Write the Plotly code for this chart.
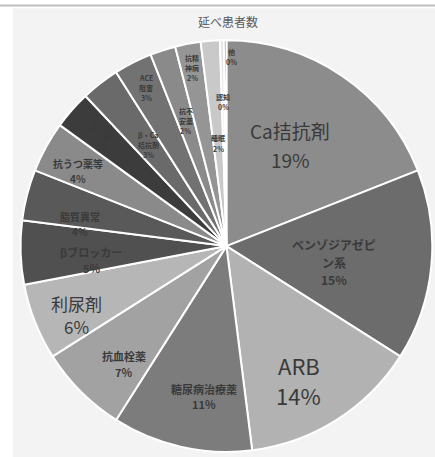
import math
import plotly.graph_objects as go

# 延べ患者数 by drug class
labels = ["Ca拮抗剤", "ベンゾジアゼピン系", "ARB", "糖尿病治療薬", "抗血栓薬", "利尿剤",
          "βブロッカー", "脂質異常", "抗うつ薬等", "抗コリン系", "β・Ca拮抗配合剤",
          "ACE阻害薬", "抗不安薬", "抗精神病薬", "睡眠薬", "抗認知症薬", "その他"]
values = [19, 15, 14, 11, 7, 6, 5, 4, 4, 3, 3, 3, 2, 2, 1.5, 0.3, 0.2]
# slice label text, one entry per line
display_names = [["Ca拮抗剤"], ["ベンゾジアゼピ", "ン系"], ["ARB"], ["糖尿病治療薬"],
                 ["抗血栓薬"], ["利尿剤"], ["βブロッカー"], ["脂質異常"],
                 ["抗うつ薬等"], ["抗コリ", "ン系"], ["β・Ca", "拮抗剤"],
                 ["ACE", "阻害"], ["抗不", "安薬"], ["抗精", "神病"], ["睡眠"],
                 ["認知"], ["他"]]
bold_text = [False, True, False, True, True, False, True, True, True,
             True, True, True, True, True, True, True, True]

slice_colors = ["#8c8c8c", "#6c6c6c", "#b2b2b2", "#7c7c7c", "#a2a2a2", "#b6b6b6",
                "#505050", "#595959", "#8a8a8a", "#3c3c3c", "#6a6a6a",
                "#727272", "#8a8a8a", "#959595", "#c9c9c9", "#e2e2e2", "#767676"]
text_sizes = [19, 12, 22, 11, 11, 17, 11, 10, 10, 7, 7, 7, 7, 7, 7, 7, 7]
line_step = [1.55, 1.45, 1.38, 1.4, 1.45, 1.35, 1.45, 1.5, 1.5,
             1.45, 1.45, 1.45, 1.45, 1.45, 1.45, 1.45, 1.45]
# label distance from the centre, as a fraction of the radius
label_radius = [0.58, 0.53, 0.74, 0.74, 0.76, 0.80, 0.66, 0.72, 0.81,
                0.80, 0.62, 0.86, 0.64, 0.88, 0.50, 0.70, 0.92]
label_angle_shift = [-2, 3, 4, -4, -4, -3, -4, -6, -2, 0, 0, 0, 0, 0, 0, 0, 2]

W, H = 435, 457
dom_x = [0.046, 0.995]
dom_y = [0.011, 0.912]

fig = go.Figure(go.Pie(
    labels=labels,
    values=values,
    textinfo="none",
    sort=False,
    direction="clockwise",
    rotation=0,
    marker=dict(colors=slice_colors, line=dict(color="#ffffff", width=2)),
    hoverinfo="label+percent",
    domain=dict(x=dom_x, y=dom_y),
    showlegend=False,
))

# slice labels, placed at each slice's mid angle
cx = (dom_x[0] + dom_x[1]) / 2 * W
cy = (1 - (dom_y[0] + dom_y[1]) / 2) * H
R = min((dom_x[1] - dom_x[0]) * W, (dom_y[1] - dom_y[0]) * H) / 2
total = sum(values)
annotations = []
cum = 0.0
for name_lines, v, fs, step, rf, da, bold in zip(display_names, values, text_sizes, line_step,
                                                 label_radius, label_angle_shift, bold_text):
    mid = (cum + v / 2) / total * 360 + da
    cum += v
    a = math.radians(mid)
    px = cx + rf * R * math.sin(a)
    py = cy - rf * R * math.cos(a)
    pct = round(v / total * 100)
    lines = name_lines + [f"{pct}%"]
    dy = step * fs
    top = py - (len(lines) - 1) / 2 * dy
    for i, line in enumerate(lines):
        annotations.append(dict(
            text=f"<b>{line}</b>" if bold else line,
            x=px / W, y=1 - (top + i * dy) / H, xref="paper", yref="paper",
            showarrow=False, xanchor="center", yanchor="middle",
            font=dict(family="Noto Sans CJK JP", size=fs, color="#3a3a3a"),
        ))

annotations.append(dict(
    text="延べ患者数", x=0.525, y=0.952, xref="paper", yref="paper",
    showarrow=False, xanchor="center", yanchor="middle",
    font=dict(family="Noto Sans CJK JP", size=12, color="#5a5a5a"),
))

fig.update_layout(
    width=W,
    height=H,
    margin=dict(l=0, r=0, t=0, b=0),
    paper_bgcolor="#ffffff",
    showlegend=False,
    shapes=[
        dict(type="rect", xref="paper", yref="paper", x0=0.03, x1=1.0, y0=0.0, y1=0.982,
             fillcolor="#f3f3f3", line=dict(width=0), layer="below"),
        dict(type="line", xref="paper", yref="paper", x0=0.0, x1=1.0, y0=0.988, y1=0.988,
             line=dict(color="#bdbdbd", width=2)),
    ],
    annotations=annotations,
)

fig.write_html("out.html")
